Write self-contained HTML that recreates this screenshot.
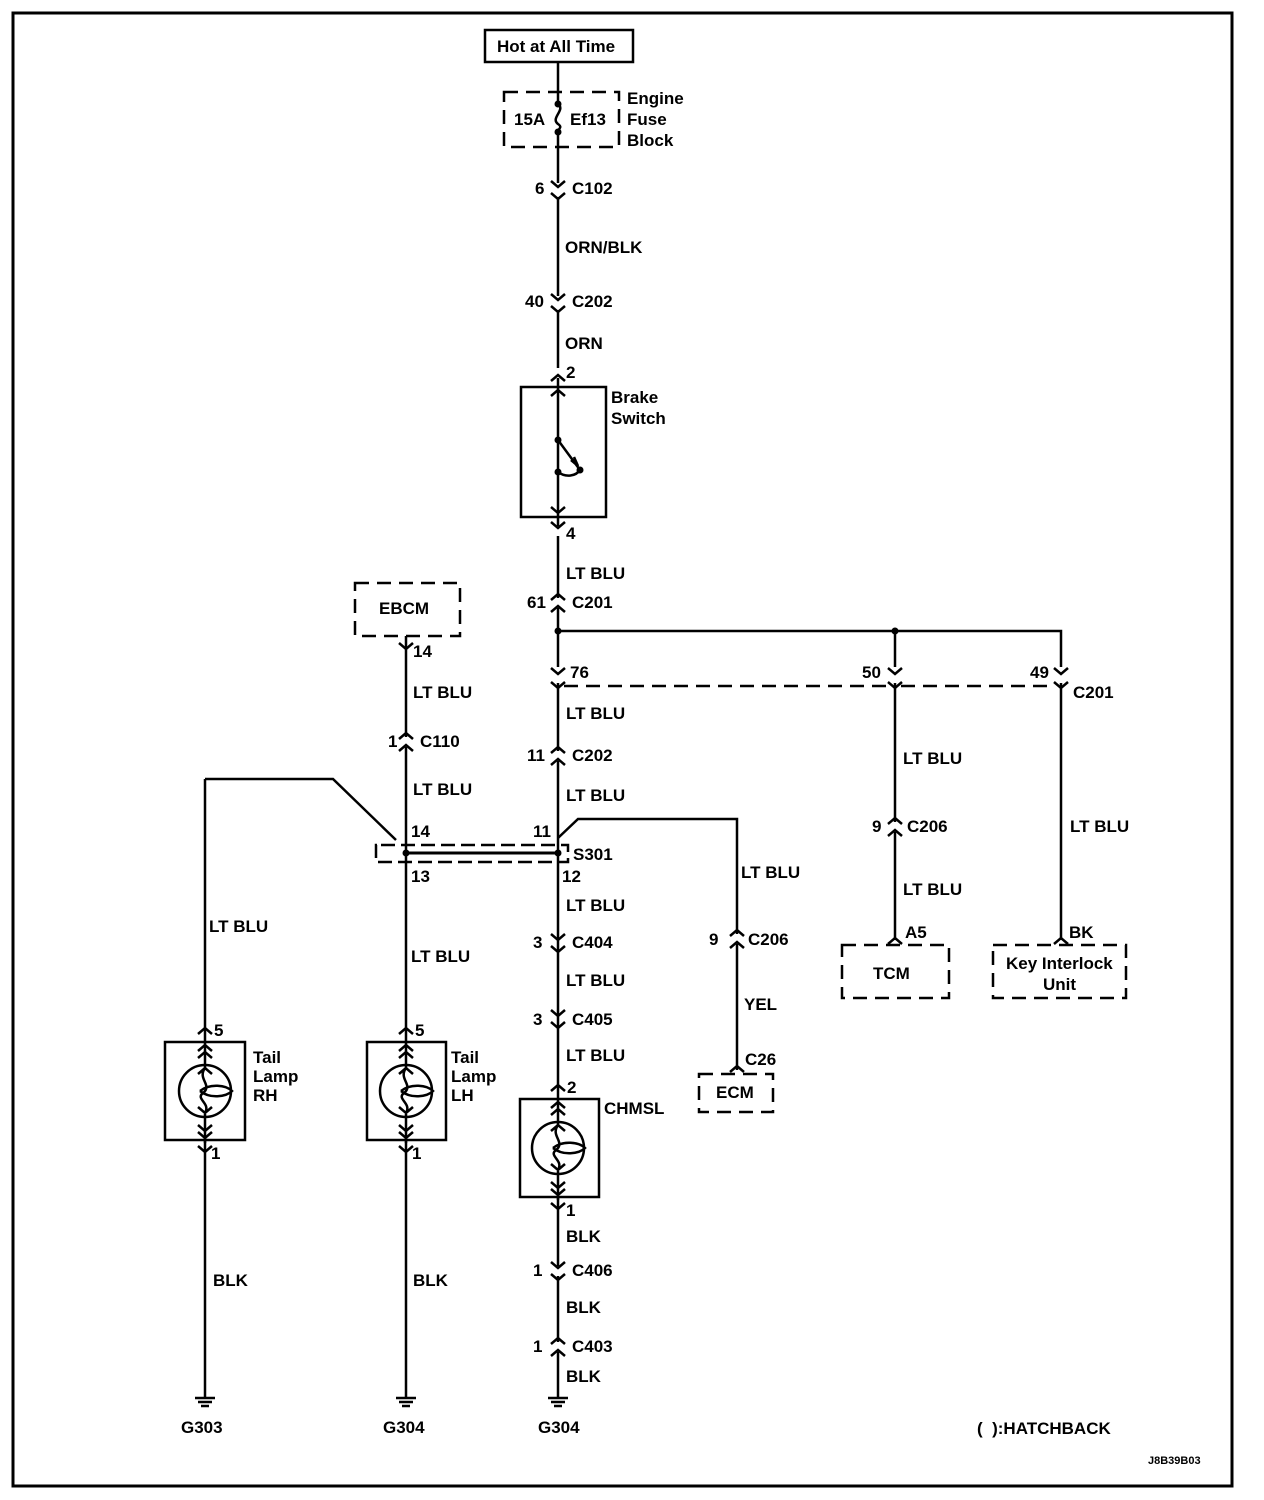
<!DOCTYPE html>
<html><head><style>
html,body{margin:0;padding:0;background:#fff}
svg{display:block}
text{font-family:"Liberation Sans",Arial,sans-serif;font-weight:bold;font-size:17px;fill:#000}
</style></head><body>
<svg width="1264" height="1500" viewBox="0 0 1264 1500" xmlns="http://www.w3.org/2000/svg">
<defs>
<g id="cd" fill="none" stroke="#000" stroke-width="2.5"><path d="M-7,-9 L0,-3 L7,-9 M-7,3 L0,9 L7,3"/></g>
<g id="cu" fill="none" stroke="#000" stroke-width="2.5"><path d="M-7,-3 L0,-9 L7,-3 M-7,9 L0,3 L7,9"/></g>
<g id="gnd" stroke="#000" stroke-width="2.5"><path d="M-10,0 H10 M-7,4 H7 M-4,8 H4"/></g>
<g id="lamp" fill="none" stroke="#000" stroke-width="2.5">
<circle cx="0" cy="0" r="26"/>
<path d="M0,-50 V-23 M0,23 V52"/>
<path d="M-7,-40 L0,-46 L7,-40 M-7,-33 L0,-39 L7,-33"/>
<path d="M-7,-17 L0,-23 L7,-17 M0,-23 C-8,-12 8,-6 -2,2 C-10,8 6,12 0,22 M-7,16 L0,22 L7,16"/>
<path d="M-2,0 C8,-8 24,-6 30,0 C24,6 8,8 -2,0" transform="translate(-3,0)"/>
<path d="M-7,34 L0,40 L7,34 M-7,41 L0,47 L7,41"/>
</g>
</defs>
<rect x="13" y="13" width="1219" height="1473" fill="none" stroke="#000" stroke-width="3"/>

<g stroke="#000" stroke-width="2.5" fill="none">
<path d="M558,62 V104"/>
<path d="M558,132 V183"/>
<path d="M558,197 V296"/>
<path d="M558,310 V368"/>
<path d="M558,378 V526"/>
<path d="M558,536 V598"/>
<path d="M558,608 V667"/>
<path d="M558,683 V751"/>
<path d="M558,761 V1100"/>
<path d="M558,838 L578,819 H737 V934"/>
<path d="M737,944 V1070"/>
<path d="M558,631 H1061 V667"/>
<path d="M895,631 V667"/>
<path d="M895,683 V822"/>
<path d="M895,832 V940"/>
<path d="M1061,683 V940"/>
<path d="M406,636 V737"/>
<path d="M406,747 V1042"/>
<path d="M205,779 H333 L396,840"/>
<path d="M205,779 V1042"/>
<path d="M205,1140 V1398"/>
<path d="M406,1140 V1398"/>
<path d="M558,1197 V1266"/>
<path d="M558,1276 V1342"/>
<path d="M558,1352 V1398"/>
<path d="M558,104 C566,110 550,118 558,124 C564,128 556,130 558,132"/>
<rect x="504" y="92" width="115" height="55" stroke-dasharray="14,8"/>
<rect x="485" y="30" width="148" height="32" fill="#fff"/>
<rect x="521" y="387" width="85" height="130"/>
<path d="M551,381 L558,375 L565,381 M551,396 L558,390 L565,396"/>
<path d="M551,507 L558,513 L565,507 M551,522 L558,528 L565,522"/>
<path d="M558,440 L580,470 M558,472 C566,478 576,476 580,470 M571,460 L578,466 L574,457"/>
<rect x="355" y="583" width="105" height="53" stroke-dasharray="14,8" fill="#fff"/>
<path d="M399,643 L406,649 L413,643"/>
<path d="M564,686 H889 M901,686 H1055" stroke-dasharray="14,8"/>
<path d="M551,668 L558,674 L565,668 M551,682 L558,688 L565,682"/>
<path d="M888,668 L895,674 L902,668 M888,682 L895,688 L902,682"/>
<path d="M1054,668 L1061,674 L1068,668 M1054,682 L1061,688 L1068,682"/>
<path d="M381,845 H568 V862 H376 V845 H381" stroke-dasharray="14,6"/>
<path d="M406,853 H558" stroke-width="3"/>
<rect x="842" y="945" width="107" height="53" stroke-dasharray="14,8"/>
<path d="M888,944 L895,938 L902,944"/>
<rect x="993" y="945" width="133" height="53" stroke-dasharray="14,8"/>
<path d="M1054,944 L1061,938 L1068,944"/>
<rect x="699" y="1074" width="74" height="38" stroke-dasharray="14,8"/>
<path d="M730,1072 L737,1066 L744,1072"/>
<rect x="165" y="1042" width="80" height="98"/>
<rect x="367" y="1042" width="79" height="98"/>
<rect x="520" y="1099" width="79" height="98"/>
<path d="M198,1034 L205,1028 L212,1034 M399,1034 L406,1028 L413,1034 M551,1091 L558,1085 L565,1091"/>
<path d="M198,1146 L205,1152 L212,1146 M399,1146 L406,1152 L413,1146 M551,1203 L558,1209 L565,1203"/>
</g>
<circle cx="558" cy="104" r="3.5"/><circle cx="558" cy="132" r="3.5"/>
<circle cx="558" cy="440" r="3.5"/><circle cx="558" cy="472" r="3.5"/><circle cx="580" cy="470" r="3.5"/>
<circle cx="558" cy="631" r="3.5"/><circle cx="895" cy="631" r="3.5"/>
<circle cx="406" cy="853" r="3.5"/><circle cx="558" cy="853" r="3.5"/>

<use href="#cd" x="558" y="190"/>
<use href="#cd" x="558" y="303"/>
<use href="#cu" x="558" y="603"/>
<use href="#cu" x="558" y="756"/>
<use href="#cu" x="406" y="742"/>
<use href="#cu" x="895" y="827"/>
<use href="#cu" x="737" y="939"/>
<use href="#cd" x="558" y="943"/>
<use href="#cd" x="558" y="1019"/>
<use href="#cd" x="558" y="1271"/>
<use href="#cu" x="558" y="1347"/>
<use href="#lamp" x="205" y="1091"/>
<use href="#lamp" x="406" y="1091"/>
<use href="#lamp" x="558" y="1148"/>
<use href="#gnd" x="205" y="1398"/>
<use href="#gnd" x="406" y="1398"/>
<use href="#gnd" x="558" y="1398"/>

<text x="497" y="52">Hot at All Time</text>
<text x="514" y="125">15A</text><text x="570" y="125">Ef13</text>
<text x="627" y="104">Engine</text><text x="627" y="125">Fuse</text><text x="627" y="146">Block</text>
<text x="535" y="194">6</text><text x="572" y="194">C102</text>
<text x="565" y="253">ORN/BLK</text>
<text x="525" y="307">40</text><text x="572" y="307">C202</text>
<text x="565" y="349">ORN</text>
<text x="566" y="378">2</text>
<text x="611" y="403">Brake</text><text x="611" y="424">Switch</text>
<text x="566" y="539">4</text>
<text x="566" y="579">LT BLU</text>
<text x="527" y="608">61</text><text x="572" y="608">C201</text>
<text x="379" y="614">EBCM</text>
<text x="413" y="657">14</text>
<text x="570" y="678">76</text><text x="862" y="678">50</text><text x="1030" y="678">49</text>
<text x="1073" y="698">C201</text>
<text x="566" y="719">LT BLU</text>
<text x="413" y="698">LT BLU</text>
<text x="388" y="747">1</text><text x="420" y="747">C110</text>
<text x="527" y="761">11</text><text x="572" y="761">C202</text>
<text x="903" y="764">LT BLU</text>
<text x="413" y="795">LT BLU</text>
<text x="566" y="801">LT BLU</text>
<text x="411" y="837">14</text><text x="533" y="837">11</text>
<text x="872" y="832">9</text><text x="907" y="832">C206</text>
<text x="1070" y="832">LT BLU</text>
<text x="573" y="860">S301</text>
<text x="411" y="882">13</text><text x="562" y="882">12</text>
<text x="741" y="878">LT BLU</text>
<text x="903" y="895">LT BLU</text>
<text x="566" y="911">LT BLU</text>
<text x="209" y="932">LT BLU</text>
<text x="905" y="938">A5</text><text x="1069" y="938">BK</text>
<text x="533" y="948">3</text><text x="572" y="948">C404</text>
<text x="709" y="945">9</text><text x="748" y="945">C206</text>
<text x="411" y="962">LT BLU</text>
<text x="873" y="979">TCM</text>
<text x="1006" y="969">Key Interlock</text><text x="1043" y="990">Unit</text>
<text x="566" y="986">LT BLU</text>
<text x="744" y="1010">YEL</text>
<text x="533" y="1025">3</text><text x="572" y="1025">C405</text>
<text x="214" y="1036">5</text><text x="415" y="1036">5</text>
<text x="253" y="1063">Tail</text><text x="253" y="1082">Lamp</text><text x="253" y="1101">RH</text>
<text x="451" y="1063">Tail</text><text x="451" y="1082">Lamp</text><text x="451" y="1101">LH</text>
<text x="566" y="1061">LT BLU</text>
<text x="745" y="1065">C26</text>
<text x="716" y="1098">ECM</text>
<text x="567" y="1093">2</text>
<text x="604" y="1114">CHMSL</text>
<text x="211" y="1159">1</text><text x="412" y="1159">1</text>
<text x="566" y="1216">1</text>
<text x="566" y="1242">BLK</text>
<text x="533" y="1276">1</text><text x="572" y="1276">C406</text>
<text x="213" y="1286">BLK</text><text x="413" y="1286">BLK</text>
<text x="566" y="1313">BLK</text>
<text x="533" y="1352">1</text><text x="572" y="1352">C403</text>
<text x="566" y="1382">BLK</text>
<text x="181" y="1433">G303</text><text x="383" y="1433">G304</text><text x="538" y="1433">G304</text>
<text x="977" y="1434">(&#160;&#160;):HATCHBACK</text>
<text x="1148" y="1464" style="font-size:11px">J8B39B03</text>
</svg>
</body></html>
